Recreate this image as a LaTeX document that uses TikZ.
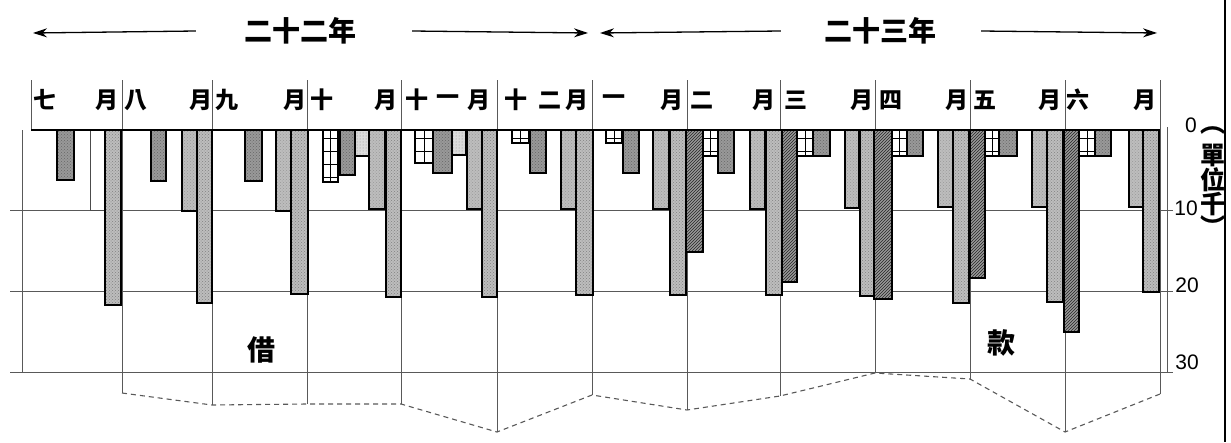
\documentclass[tikz,border=0pt]{standalone}
\usepackage{fontspec}
\usepackage{tikz}
\usetikzlibrary{arrows,arrows.meta,patterns,positioning}
\newfontfamily\cjk{Noto Sans CJK TC}
\newfontfamily\numfont{Liberation Sans}
\definecolor{barlight}{gray}{0.86}
\definecolor{barmid}{gray}{0.74}
\definecolor{bardark}{gray}{0.60}
\definecolor{gridgray}{gray}{0.35}
\tikzstyle{bar} = [draw=black, line width=1.4pt]
\tikzstyle{whitebar} = [draw=black!70, line width=1pt, fill=white]
\tikzstyle{brickbar} = [bar, fill=white, path picture={
  \foreach \yy in {8,21,...,60} \draw[line width=0.7pt] ([yshift=-\yy pt]path picture bounding box.north west) -- ([yshift=-\yy pt]path picture bounding box.north east);
  \draw[line width=0.7pt] (path picture bounding box.north) -- (path picture bounding box.south);}]
\tikzstyle{darkbar} = [bar, preaction={fill=bardark}, pattern=crosshatch dots, pattern color=black!60]
\tikzstyle{lightbar} = [bar, preaction={fill=barlight}, pattern=dots, pattern color=black!45]
\tikzstyle{midbar} = [bar, preaction={fill=barmid}, pattern=crosshatch dots, pattern color=black!40]
\tikzstyle{tallbar} = [bar, preaction={fill=barmid}, pattern=crosshatch dots, pattern color=black!50]
\tikzstyle{stripebar} = [bar, preaction={fill=bardark}, pattern=north east lines, pattern color=black!85]
\tikzstyle{grid} = [line width=0.8pt, color=gridgray]
\tikzstyle{outline} = [line width=1.1pt, color=gridgray, dash pattern=on 5pt off 4pt]
\tikzstyle{arrow} = [line width=1.3pt,-{Stealth[length=14pt,width=9pt]}]
\tikzstyle{mon} = [inner sep=0pt, font=\cjk\bfseries\fontsize{23}{23}\selectfont]
\tikzstyle{yearlab} = [inner sep=0pt, font=\cjk\bfseries\fontsize{28}{28}\selectfont]
\tikzstyle{unit} = [inner sep=0pt, font=\numfont\fontsize{21}{21}\selectfont]
\tikzstyle{unitcjk} = [inner sep=0pt, font=\cjk\bfseries\fontsize{25}{25}\selectfont]

\begin{document}
\begin{tikzpicture}[x=1pt,y=-1pt]
\useasboundingbox (0,0) rectangle (1231,442);

\node[yearlab] (y22) at (300,31) {二十二年};
\node[yearlab] (y23) at (880,31) {二十三年};
\coordinate (t1) at (33,33);
\coordinate (t2) at (588,33);
\coordinate (t3) at (600,33);
\coordinate (t4) at (1157,33);
\draw[arrow] ([xshift=-48pt]y22.west) -- (t1);
\draw[arrow] ([xshift=56pt]y22.east) -- (t2);
\draw[arrow] ([xshift=-43pt]y23.west) -- (t3);
\draw[arrow] ([xshift=45pt]y23.east) -- (t4);

\foreach \ch/\xc [count=\i] in {七/45,月/107,八/136,月/201,九/227,月/295,十/322,月/386,十/417,一/448,月/479,十/516,二/550,月/577,一/614,月/672,二/702,月/764,三/796,月/862,四/891,月/957,五/985,月/1050,六/1078,月/1145}
  \node[mon] (m\i) at (\xc,100) {\ch};

\foreach \yy in {210,291,372} \draw[grid] (10,\yy) -- (1173,\yy);
\draw[grid] (22,130) -- (22,372);
\draw[grid] (1167,127) -- (1167,372);
\draw[grid] (31,80) -- (31,130);
\foreach \xv/\yv [count=\i] in {122/393,212/405,307/404,401/404,497/432,592/395,687/410,780/396,875/373,970/379,1065/432,1160/394}
  {\coordinate (v\i) at (\xv,\yv);
   \draw[grid] (\xv,80) -- (v\i);}
\draw[outline] (v1) -- (v2) -- (v3) -- (v4) -- (v5) -- (v6) -- (v7) -- (v8) -- (v9) -- (v10) -- (v11) -- (v12);

\draw[whitebar] (90,130) rectangle (105,210);
\foreach \xa/\xb/\yb in {57/74/180,151/166/181,245/262/181,340/355/175,433/452/173,530/546/173,623/639/173,718/734/173,813/830/156,907/923/156,999/1017/156,1095/1111/156}
  \draw[darkbar] (\xa,130) rectangle (\xb,\yb);
\foreach \xa/\xb/\yb in {323/338/182,415/433/163,512/529/143,606/622/143,703/718/156,797/813/156,892/907/156,985/999/156,1079/1095/156}
  \draw[brickbar] (\xa,130) rectangle (\xb,\yb);
\foreach \xa/\xb/\yb in {355/369/156,452/466/155}
  \draw[lightbar] (\xa,130) rectangle (\xb,\yb);
\foreach \xa/\xb/\yb in {182/197/211,276/291/211,369/385/209,467/482/209,561/576/209,653/669/209,750/765/209,845/859/208,938/953/207,1032/1047/207,1129/1143/207}
  \draw[midbar] (\xa,130) rectangle (\xb,\yb);
\foreach \xa/\xb/\yb in {105/121/305,197/212/303,291/308/294,386/401/297,482/497/297,576/593/295,670/686/295,766/782/295,860/875/296,953/969/303,1047/1063/302,1143/1159/292}
  \draw[tallbar] (\xa,130) rectangle (\xb,\yb);
\foreach \xa/\xb/\yb in {686/703/252,782/797/282,874/892/299,970/985/278,1064/1079/332}
  \draw[stripebar] (\xa,130) rectangle (\xb,\yb);
\draw[line width=2pt] (31,130) -- (1160,130);

\node[unit] (n0) at (1191,125) {0};
\node[unit] (n10) at (1186,208) {10};
\node[unit] (n20) at (1187,285) {20};
\node[unit] (n30) at (1187,362) {30};

\node[unitcjk] (pl) at (1213,131) {︵};
\node[unitcjk] (u1) at (1213,155) {單};
\node[unitcjk] (u2) at (1213,180) {位};
\node[unitcjk] (u3) at (1213,204) {千};
\node[unitcjk] (pr) at (1213,226) {︶};

\node[yearlab] (jie) at (261,350) {借};
\node[yearlab] (kuan) at (1001,343) {款};

\draw[line width=2.5pt] (1225,0) -- (1225,442);
\end{tikzpicture}
\end{document}
